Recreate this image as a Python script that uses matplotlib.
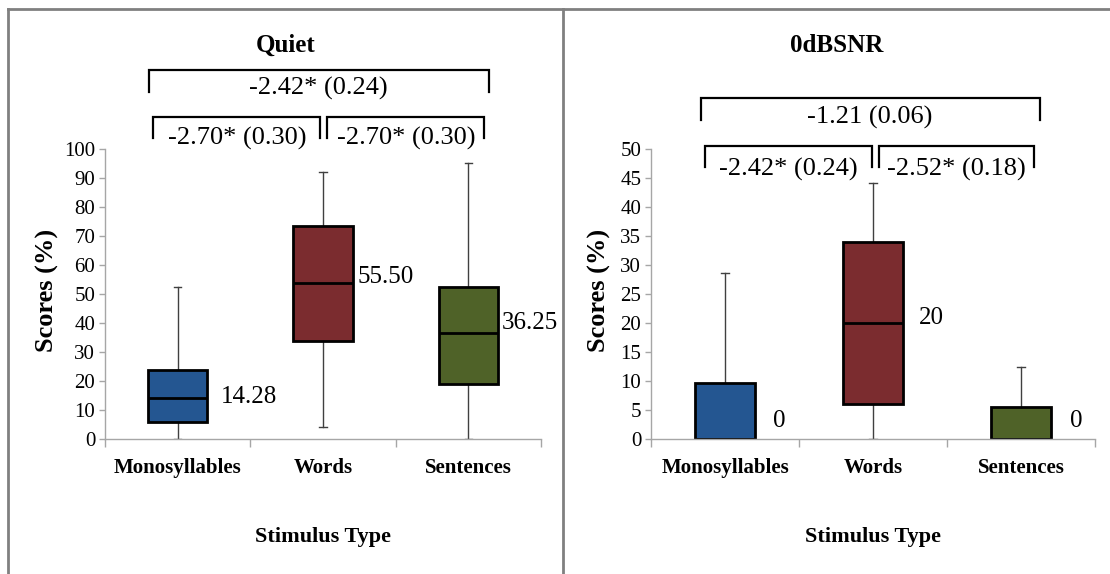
import matplotlib
matplotlib.use("Agg")
import matplotlib.pyplot as plt
from matplotlib.lines import Line2D
from matplotlib.transforms import blended_transform_factory

plt.rcParams['font.family'] = ['Liberation Serif', 'DejaVu Serif']

# ---------------- data ----------------
categories = ["Monosyllables", "Words", "Sentences"]
panel_titles = ["Quiet", "0dBSNR"]

# Quiet condition (scores %)
quiet_whislo = [0, 4.2, 0]
quiet_q1 = [6.0, 33.8, 18.8]
quiet_med = [14.1, 53.8, 36.4]
quiet_q3 = [23.8, 73.3, 52.4]
quiet_whishi = [52.4, 92.2, 95.2]
quiet_labels = ["14.28", "55.50", "36.25"]

# 0 dB SNR condition (scores %)
snr_whislo = [0, 0, 0]
snr_q1 = [0, 6.0, 0]
snr_med = [0, 20.0, 0]
snr_q3 = [9.6, 34.0, 5.5]
snr_whishi = [28.6, 44.1, 12.5]
snr_labels = ["0", "20", "0"]

quiet_brackets = ["-2.42* (0.24)", "-2.70* (0.30)", "-2.70* (0.30)"]
snr_brackets = ["-1.21 (0.06)", "-2.42* (0.24)", "-2.52* (0.18)"]

# ---------------- style ----------------
W, H = 1110, 574
box_colors = ["#245691", "#7B2C2F", "#4F6228"]
spine_col = "#A6A6A6"

fig = plt.figure(figsize=(W / 100, H / 100), dpi=100)


def fx(px):
    return px / W


def fy(py):
    return 1 - py / H


panels = [
    dict(rect=[fx(105), fy(439), fx(541) - fx(105), (439 - 149) / H],
         ymax=100, step=10,
         stats=(quiet_whislo, quiet_q1, quiet_med, quiet_q3, quiet_whishi),
         labels=quiet_labels, label_y=[14.6, 56.0, 40.0], label_dx=[13, 5, 4],
         brackets=quiet_brackets,
         bpos=[(-0.197, 2.143, 127.2, 119.7), (-0.170, 0.980, 111.0, 103.8),
               (1.028, 2.108, 111.0, 103.8)],
         tpos=[(0.966, 121.0), (0.408, 103.5), (1.57, 103.5)],
         title_x=286, ylab_x=47, xlab_x=323),
    dict(rect=[fx(651), fy(439), fx(1095) - fx(651), (439 - 149) / H],
         ymax=50, step=5,
         stats=(snr_whislo, snr_q1, snr_med, snr_q3, snr_whishi),
         labels=snr_labels, label_y=[3.1, 20.9, 3.1], label_dx=[18, 16, 19],
         brackets=snr_brackets,
         bpos=[(-0.162, 2.128, 58.8, 55.0), (-0.135, 0.993, 50.5, 46.9),
               (1.040, 2.090, 50.5, 46.9)],
         tpos=[(0.976, 55.4), (0.426, 46.5), (1.56, 46.5)],
         title_x=837, ylab_x=599, xlab_x=873),
]

for pi, p in enumerate(panels):
    ax = fig.add_axes(p["rect"])
    lo, q1, med, q3, hi = p["stats"]
    stats = []
    for i in range(len(categories)):
        stats.append(dict(whislo=lo[i], q1=q1[i], med=med[i], q3=q3[i],
                          whishi=hi[i], fliers=[], label=categories[i]))
    bp = ax.bxp(stats, positions=range(len(categories)), widths=0.41,
                patch_artist=True, showfliers=False, manage_ticks=False,
                boxprops=dict(edgecolor="black", linewidth=2.0),
                medianprops=dict(color="black", linewidth=2.0),
                whiskerprops=dict(color="#404040", linewidth=1.0),
                capprops=dict(color="#404040", linewidth=1.0),
                capwidths=0.05)
    for patch, c in zip(bp["boxes"], box_colors):
        patch.set_facecolor(c)
    for w in bp["whiskers"]:
        w.set_zorder(1)
    for cap in bp["caps"]:
        cap.set_zorder(1)

    ax.set_xlim(-0.5, len(categories) - 0.5)
    ax.set_ylim(0, p["ymax"])
    ax.set_yticks(range(0, p["ymax"] + 1, p["step"]))
    ax.set_xticks([])
    ax.set_xticks([-0.5, 0.5, 1.5, 2.5], minor=True)
    ax.tick_params(axis="x", which="minor", length=6, width=1, color=spine_col,
                   direction="out", labelbottom=False)
    ax.tick_params(axis="y", length=4, width=1, color=spine_col, pad=3,
                   labelsize=15, labelcolor="black")
    for s in ["top", "right"]:
        ax.spines[s].set_visible(False)
    for s in ["left", "bottom"]:
        ax.spines[s].set_color(spine_col)
        ax.spines[s].set_linewidth(1.0)
    ax.patch.set_alpha(0)

    trans = blended_transform_factory(ax.transData, ax.transAxes)
    for i, cat in enumerate(categories):
        ax.text(i, -29 / 290, cat, transform=trans, ha="center", va="center",
                fontsize=15, fontweight="bold")

    # median labels
    px_per_unit = (p["rect"][2] * W) / len(categories)
    for i, lab in enumerate(p["labels"]):
        x = i + 0.205 + p["label_dx"][i] / px_per_unit
        ax.text(x, p["label_y"][i], lab, ha="left", va="center", fontsize=18)

    # brackets
    for (x0, x1, yt, yb), (tx, ty), txt in zip(p["bpos"], p["tpos"], p["brackets"]):
        ax.plot([x0, x0, x1, x1], [yb, yt, yt, yb], color="black",
                linewidth=1.6, clip_on=False, solid_joinstyle="miter")
        ax.text(tx, ty, txt, ha="center", va="center", fontsize=19,
                clip_on=False)

    fig.text(fx(p["title_x"]), fy(45), panel_titles[pi], ha="center",
             va="center", fontsize=18, fontweight="bold")
    fig.text(fx(p["ylab_x"]), fy(290), "Scores (%)", ha="center", va="center",
             rotation=90, fontsize=19, fontweight="bold")
    fig.text(fx(p["xlab_x"]), fy(537), "Stimulus Type", ha="center",
             va="center", fontsize=16, fontweight="bold")

# panel borders
border = "#808080"
for xs, ys in [([8, 1110], [9, 9]), ([8, 8], [9, 574]), ([563, 563], [9, 574])]:
    fig.add_artist(Line2D([fx(v) for v in xs], [fy(v) for v in ys],
                          color=border, linewidth=2, transform=fig.transFigure))

fig.savefig("out.png", dpi=100)
